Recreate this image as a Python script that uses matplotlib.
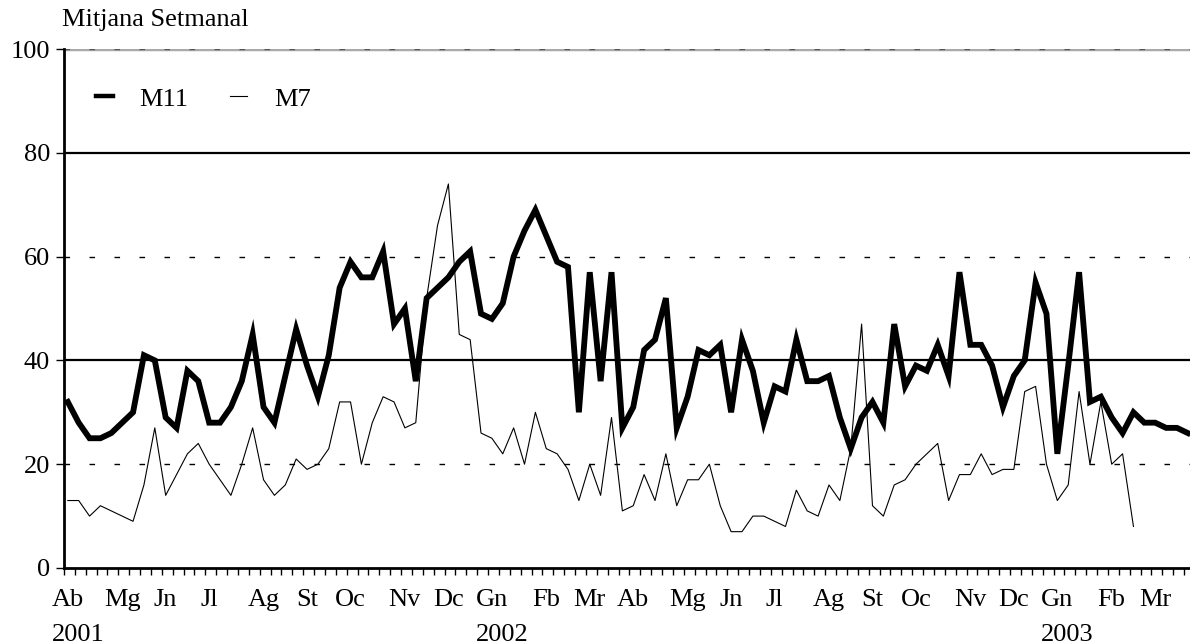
import numpy as np
import matplotlib.pyplot as plt
from matplotlib import transforms

plt.rcParams['font.family'] = ['Liberation Serif', 'DejaVu Serif']
plt.rcParams['font.size'] = 19

# weekly values, April 2001 - March 2003
m11 = [32, 28, 25, 25, 26, 28, 30, 41, 40, 29, 27, 38, 36, 28, 28, 31, 36, 45,
       31, 28, 37, 46, 39, 33, 41, 54, 59,
       56, 56, 61, 47, 50, 36, 52, 54, 56, 59, 61, 49, 48, 51, 60, 65, 69, 64,
       59, 58, 30, 57, 36, 57, 27,
       31, 42, 44, 52, 27, 33, 42, 41, 43, 30, 44, 38, 28, 35, 34, 44, 36, 36,
       37, 29, 23, 29, 32, 28, 47, 35,
       39, 38, 43, 37, 57, 43, 43, 39, 31, 37, 40, 55, 49, 22, 39, 57, 32, 33,
       29, 26, 30, 28, 28, 27, 27, 26]
m7 = [13, 13, 10, 12, 11, 10, 9, 16, 27, 14, 18, 22, 24, 20, 17, 14, 20, 27,
      17, 14, 16, 21, 19, 20, 23, 32, 32,
      20, 28, 33, 32, 27, 28, 52, 66, 74, 45, 44, 26, 25, 22, 27, 20, 30, 23,
      22, 19, 13, 20, 14, 29, 11,
      12, 18, 13, 22, 12, 17, 17, 20, 12, 7, 7, 10, 10, 9, 8, 15, 11, 10, 16,
      13, 23, 47, 12, 10, 16, 17,
      20, 22, 24, 13, 18, 18, 22, 18, 19, 19, 34, 35, 20, 13, 16, 34, 20, 32,
      20, 22, 8]

month_labels = ['Ab', 'Mg', 'Jn', 'Jl', 'Ag', 'St', 'Oc', 'Nv', 'Dc', 'Gn',
                'Fb', 'Mr', 'Ab', 'Mg', 'Jn', 'Jl', 'Ag', 'St', 'Oc', 'Nv',
                'Dc', 'Gn', 'Fb', 'Mr']
month_weeks = [0, 5, 9, 13, 18, 22, 26, 31, 35, 39, 44, 48, 52, 57, 61, 65,
               70, 74, 78, 83, 87, 91, 96, 100]
year_labels = ['2001', '2002', '2003']
year_weeks = [0, 39, 91]

fig = plt.figure(figsize=(11.9, 6.44), dpi=100)
ax = fig.add_axes([64 / 1190, 76 / 644, 1 - 64 / 1190, (568 - 49) / 644])

weeks1 = np.arange(len(m11))
weeks2 = np.arange(len(m7))

# grid
for v in [20, 60]:
    ax.axhline(v, color='black', lw=1, ls=(0, (4, 14)), zorder=1)
for v in [40, 80]:
    ax.axhline(v, color='black', lw=1.6, zorder=1)
ax.axhline(100, color='#aaaaaa', lw=2.5, zorder=1)
ax.axhline(100, color='#555555', lw=1, ls=(0, (4, 14)), zorder=1)

ax.plot(weeks1, m11, color='black', lw=4.2, solid_joinstyle='miter',
        label='M11', zorder=3)
ax.plot(weeks2, m7, color='black', lw=0.8, label='M7', zorder=2)

ax.set_xlim(-0.35, 103.2)
ax.set_ylim(0, 100)

for s in ['top', 'right']:
    ax.spines[s].set_visible(False)
ax.spines['left'].set_linewidth(2)
ax.spines['bottom'].set_linewidth(2)

ax.set_yticks([0, 20, 40, 60, 80, 100])
ax.tick_params(axis='y', length=6, width=1, pad=4)

ax.set_xticks(np.arange(104) - 0.35, minor=True)
ax.set_xticks(month_weeks)
ax.set_xticklabels(month_labels)
ax.tick_params(axis='x', which='major', length=0, pad=15)
ax.tick_params(axis='x', which='minor', length=5, width=1)

trans = transforms.blended_transform_factory(ax.transData, ax.transAxes)
trans = transforms.offset_copy(trans, fig=fig, x=-16, y=0, units='dots')
for lab, wk in zip(year_labels, year_weeks):
    ax.text(wk, -0.108, lab, transform=trans, ha='left', va='top')

fig.text(62 / 1190, 1 - 20 / 644, 'Mitjana Setmanal', ha='left', va='center')

leg = ax.legend(loc='center left', bbox_to_anchor=(0.028, 0.904), ncol=2,
                frameon=False, handlelength=0.65, handletextpad=1.0,
                columnspacing=1.6, borderpad=0, borderaxespad=0)
leg.get_lines()[0].set_linewidth(3.2)

fig.savefig('out.png', dpi=100)
